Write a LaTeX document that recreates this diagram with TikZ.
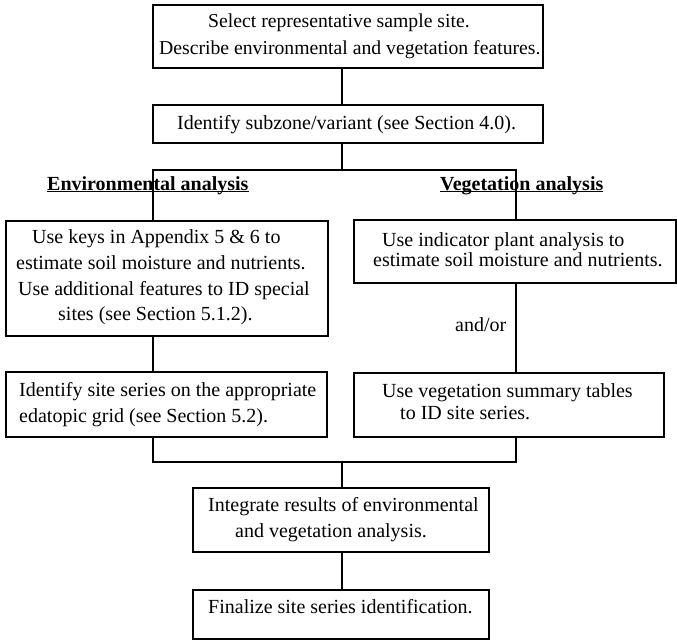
\documentclass[tikz,border=0pt]{standalone}
\usepackage{fontspec}
\setmainfont{Liberation Serif}
\begin{document}
\begin{tikzpicture}[x=1pt,y=-1pt,
  every node/.style={font=\fontsize{20}{24}\selectfont},
  box/.style={draw, line width=1.6pt, inner sep=0pt, outer sep=0pt},
  txt/.style={anchor=west, inner sep=0pt, text height=14pt, text depth=4.5pt},
  small/.style={font=\fontsize{19.7}{24}\selectfont},
  heading/.style={anchor=base west, inner sep=0pt, font=\fontsize{20}{24}\selectfont\bfseries},
  link/.style={line width=1.6pt}]
\useasboundingbox (0,0) rectangle (677,642);

% boxes
\node[box, minimum width=390pt, minimum height=63pt]  (b1) at (348,36.5) {};
\node[box, minimum width=390pt, minimum height=38pt]  (b2) at (348,124) {};
\node[box, minimum width=322pt, minimum height=115pt] (e1) at (167,278.5) {};
\node[box, minimum width=321pt, minimum height=65pt]  (e2) at (166.5,404.5) {};
\node[box, minimum width=322pt, minimum height=63pt]  (v1) at (515,251.5) {};
\node[box, minimum width=310pt, minimum height=64pt]  (v2) at (509,405) {};
\node[box, minimum width=296pt, minimum height=64pt]  (ig) at (341,520) {};
\node[box, minimum width=296pt, minimum height=49pt]  (fn) at (341,614.5) {};

% connector guides
\coordinate (lx) at (153,0);
\coordinate (rx) at (516,0);
\coordinate (split) at (342,170);
\coordinate (join) at (342,462);

% connectors
\draw[link] (b1.south -| split) -- (b2.north -| split);
\draw[link] (b2.south -| split) -- (split);
\draw[link] (e1.north -| lx) -- (lx |- split) -- (rx |- split) -- (v1.north -| rx);
\draw[link] (e1.south -| lx) -- (e2.north -| lx);
\draw[link] (v1.south -| rx) -- (v2.north -| rx);
\draw[link] (e2.south -| lx) -- (lx |- join) -- (rx |- join) -- (v2.south -| rx);
\draw[link] (join) -- (ig.north -| join);
\draw[link] (ig.south -| join) -- (fn.north -| join);

% headings
\node[heading] (hEnv) at (47,190) {\underline{\smash{Environmental analysis}}};
\node[heading] (hVeg) at (440,190) {\underline{\smash{Vegetation analysis}}};

% box texts
\node[txt, small] (b1a) at (208,23) {Select representative sample site.};
\node[txt, small] (b1b) at (159,50) {Describe environmental and vegetation features.};
\node[txt] (b2a) at (177,125) {Identify subzone/variant (see Section 4.0).};

\node[txt] (e1a) at (32,239) {Use keys in Appendix 5 \& 6 to};
\node[txt] (e1b) at (16,265) {estimate soil moisture and nutrients.};
\node[txt] (e1c) at (18,291) {Use additional features to ID special};
\node[txt] (e1d) at (58,316) {sites (see Section 5.1.2).};

\node[txt] (e2a) at (19,392) {Identify site series on the appropriate};
\node[txt] (e2b) at (19,418) {edatopic grid (see Section 5.2).};

\node[txt] (v1a) at (382,242) {Use indicator plant analysis to};
\node[txt] (v1b) at (373,262) {estimate soil moisture and nutrients.};

\node[txt] (andor) at (455,327) {and/or};

\node[txt] (v2a) at (382,393) {Use vegetation summary tables};
\node[txt] (v2b) at (400,415) {to ID site series.};

\node[txt] (iga) at (208,507) {Integrate results of environmental};
\node[txt] (igb) at (235,533) {and vegetation analysis.};

\node[txt] (fna) at (208,609) {Finalize site series identification.};
\end{tikzpicture}
\end{document}
